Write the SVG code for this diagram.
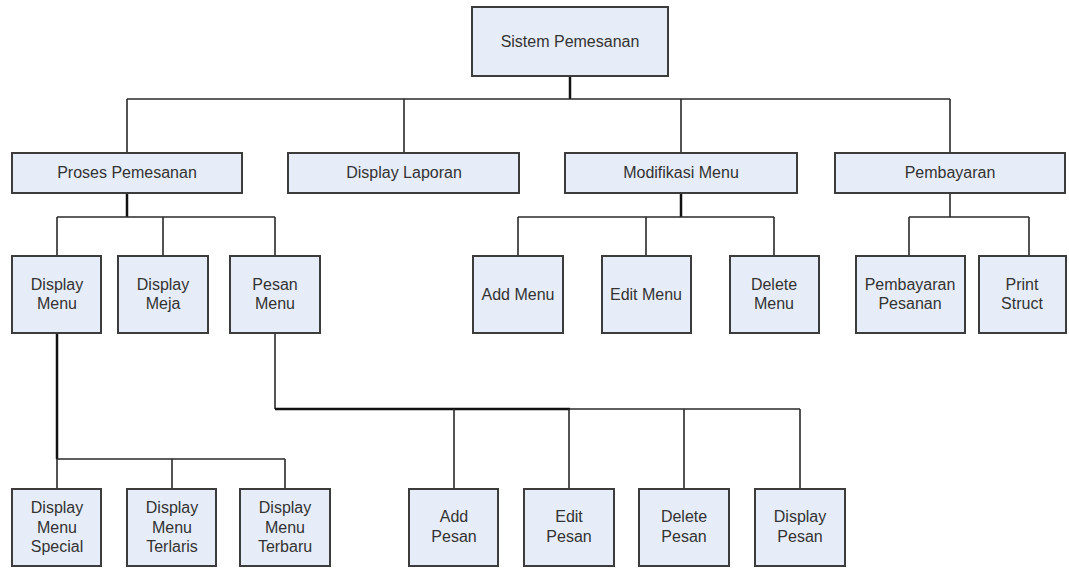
<svg xmlns="http://www.w3.org/2000/svg" width="1069" height="568" viewBox="0 0 1069 568">
<style>
.box{fill:#e7edf8;stroke:#3c3c3c;stroke-width:2}
.t{font-family:"Liberation Sans",Arial,sans-serif;font-size:16px;fill:#333;text-anchor:middle}
.c{fill:none;stroke:#2a2a2a;stroke-width:1.6}
.p{fill:none;stroke:#111;stroke-width:2.5}
</style>
<rect width="1069" height="568" fill="#fff"/>
<g id="connectors">
<path class="p" d="M570 76V99"/>
<path class="c" d="M127 99H950M127 99V153M404 99V153M681 99V153M950 99V153"/>
<path class="p" d="M127 193V217"/>
<path class="c" d="M57 217H275M57 217V256M163 217V256M275 217V256"/>
<path class="p" d="M681 193V217"/>
<path class="c" d="M518 217H774M518 217V256M646 217V256M774 217V256"/>
<path class="c" d="M950 193V217M909 217H1029M909 217V256M1029 217V256"/>
<path class="p" d="M57 333V459"/>
<path class="c" d="M57 459H285M57 459V489M172 459V489M285 459V489"/>
<path class="c" d="M275 333V409"/>
<path class="p" d="M275 409H570"/>
<path class="c" d="M570 409H800M454 409V489M569 409V489M684 409V489M800 409V489"/>
</g>
<g id="n-sistem"><rect class="box" x="472" y="7" width="196" height="69"/><text class="t" x="570" y="47">Sistem Pemesanan</text></g>
<g id="n-proses"><rect class="box" x="12" y="153" width="230" height="40"/><text class="t" x="127" y="178">Proses Pemesanan</text></g>
<g id="n-laporan"><rect class="box" x="288" y="153" width="231" height="40"/><text class="t" x="404" y="178">Display Laporan</text></g>
<g id="n-modifikasi"><rect class="box" x="565" y="153" width="232" height="40"/><text class="t" x="681" y="178">Modifikasi Menu</text></g>
<g id="n-pembayaran"><rect class="box" x="835" y="153" width="230" height="40"/><text class="t" x="950" y="178">Pembayaran</text></g>
<g id="n-displaymenu"><rect class="box" x="12" y="256" width="89" height="77"/><text class="t" x="57" y="290">Display</text><text class="t" x="57" y="309">Menu</text></g>
<g id="n-displaymeja"><rect class="box" x="118" y="256" width="90" height="77"/><text class="t" x="163" y="290">Display</text><text class="t" x="163" y="309">Meja</text></g>
<g id="n-pesanmenu"><rect class="box" x="230" y="256" width="90" height="77"/><text class="t" x="275" y="290">Pesan</text><text class="t" x="275" y="309">Menu</text></g>
<g id="n-addmenu"><rect class="box" x="473" y="256" width="90" height="77"/><text class="t" x="518" y="300">Add Menu</text></g>
<g id="n-editmenu"><rect class="box" x="602" y="256" width="89" height="77"/><text class="t" x="646" y="300">Edit Menu</text></g>
<g id="n-deletemenu"><rect class="box" x="730" y="256" width="89" height="77"/><text class="t" x="774" y="290">Delete</text><text class="t" x="774" y="309">Menu</text></g>
<g id="n-pembayaranpesanan"><rect class="box" x="856" y="256" width="109" height="77"/><text class="t" x="910" y="290">Pembayaran</text><text class="t" x="910" y="309">Pesanan</text></g>
<g id="n-printstruct"><rect class="box" x="979" y="256" width="87" height="77"/><text class="t" x="1022" y="290">Print</text><text class="t" x="1022" y="309">Struct</text></g>
<g id="n-special"><rect class="box" x="12" y="489" width="89" height="77"/><text class="t" x="57" y="513">Display</text><text class="t" x="57" y="533">Menu</text><text class="t" x="57" y="552">Special</text></g>
<g id="n-terlaris"><rect class="box" x="127" y="489" width="89" height="77"/><text class="t" x="172" y="513">Display</text><text class="t" x="172" y="533">Menu</text><text class="t" x="172" y="552">Terlaris</text></g>
<g id="n-terbaru"><rect class="box" x="240" y="489" width="90" height="77"/><text class="t" x="285" y="513">Display</text><text class="t" x="285" y="533">Menu</text><text class="t" x="285" y="552">Terbaru</text></g>
<g id="n-addpesan"><rect class="box" x="409" y="489" width="89" height="77"/><text class="t" x="454" y="522">Add</text><text class="t" x="454" y="542">Pesan</text></g>
<g id="n-editpesan"><rect class="box" x="524" y="489" width="90" height="77"/><text class="t" x="569" y="522">Edit</text><text class="t" x="569" y="542">Pesan</text></g>
<g id="n-deletepesan"><rect class="box" x="639" y="489" width="90" height="77"/><text class="t" x="684" y="522">Delete</text><text class="t" x="684" y="542">Pesan</text></g>
<g id="n-displaypesan"><rect class="box" x="755" y="489" width="90" height="77"/><text class="t" x="800" y="522">Display</text><text class="t" x="800" y="542">Pesan</text></g>
</svg>
